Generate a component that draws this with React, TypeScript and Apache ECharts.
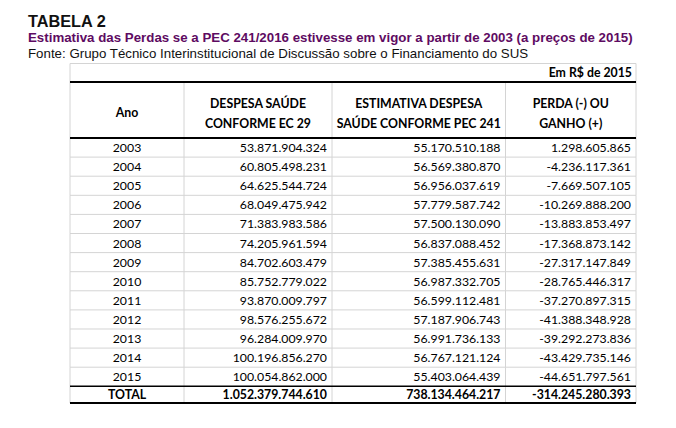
import React, { useEffect, useRef } from "react";
import * as echarts from "echarts";

const titleText = "TABELA 2";
const subtitleText =
  "Estimativa das Perdas se a PEC 241/2016 estivesse em vigor a partir de 2003 (a preços de 2015)";
const sourceText =
  "Fonte: Grupo Técnico Interinstitucional de Discussão sobre o Financiamento do SUS";
const unitText = "Em R$ de 2015";

const headers = [
  ["Ano"],
  ["DESPESA SAÚDE", "CONFORME EC 29"],
  ["ESTIMATIVA DESPESA", "SAÚDE CONFORME PEC 241"],
  ["PERDA (-) OU", "GANHO (+)"],
];

const years = [
  "2003", "2004", "2005", "2006", "2007", "2008", "2009",
  "2010", "2011", "2012", "2013", "2014", "2015", "TOTAL",
];

const despesaEC29 = [
  53871904324, 60805498231, 64625544724, 68049475942, 71383983586,
  74205961594, 84702603479, 85752779022, 93870009797, 98576255672,
  96284009970, 100196856270, 100054862000, 1052379744610,
];

const estimativaPEC241 = [
  55170510188, 56569380870, 56956037619, 57779587742, 57500130090,
  56837088452, 57385455631, 56987332705, 56599112481, 57187906743,
  56991736133, 56767121124, 55403064439, 738134464217,
];

const perdaGanho = [
  1298605865, -4236117361, -7669507105, -10269888200, -13883853497,
  -17368873142, -27317147849, -28765446317, -37270897315, -41388348928,
  -39292273836, -43429735146, -44651797561, -314245280393,
];

function fmt(n: number): string {
  const s = Math.abs(n).toString().replace(/\B(?=(\d{3})+(?!\d))/g, ".");
  return (n < 0 ? "-" : "") + s;
}

const TABLE_FONT = "Lato, 'Open Sans', sans-serif";
const HEAD_FONT = "'Liberation Sans', Arial, sans-serif";

export default function App() {
  const ref = useRef<HTMLDivElement>(null);

  useEffect(() => {
    if (!ref.current) return;
    const chart = echarts.init(ref.current, undefined, { renderer: "svg" });

    const L = 70;
    const R = 636;
    const colX = [0, 114, 262, 435.5, 566];
    const gridTop = 138;
    const gridBottom = 403;
    const totalH = 0.875;
    const nData = years.length - 1;
    const yMax = nData + totalH;
    const grey = "#d4d4d4";
    const pad = 5;

    const rowData = years.map((_, i) => [0, i]);

    const renderItem = (params: any, api: any) => {
      const i = params.dataIndex;
      const isTotal = i === nData;
      const yTop = api.coord([0, i])[1];
      const yBot = api.coord([0, isTotal ? yMax : i + 1])[1];
      const yMid = (yTop + yBot) / 2;
      const xs = colX.map((c) => api.coord([c, 0])[0]);
      const font = `${isTotal ? "bold " : ""}12.3px ${TABLE_FONT}`;
      const children: any[] = [];
      xs.forEach((x) => {
        children.push({
          type: "line",
          shape: { x1: x, y1: yTop, x2: x, y2: yBot },
          style: { stroke: grey, lineWidth: 1 },
        });
      });
      const last = i === nData - 1 || isTotal;
      children.push({
        type: "line",
        z2: 5,
        shape: { x1: xs[0], y1: yBot, x2: xs[4], y2: yBot },
        style: {
          stroke: last ? "#000" : grey,
          lineWidth: isTotal ? 2 : last ? 1.5 : 1,
        },
      });
      children.push({
        type: "text",
        z2: 10,
        style: {
          x: (xs[0] + xs[1]) / 2,
          y: yMid,
          text: years[i],
          font,
          fill: "#000",
          align: "center",
          verticalAlign: "middle",
        },
      });
      const vals = [despesaEC29[i], estimativaPEC241[i], perdaGanho[i]];
      vals.forEach((v, k) => {
        children.push({
          type: "text",
          z2: 10,
          style: {
            x: xs[k + 2] - pad,
            y: yMid,
            text: fmt(v),
            font,
            fill: "#000",
            align: "right",
            verticalAlign: "middle",
          },
        });
      });
      return { type: "group", children };
    };

    const colPix = colX.map((c) => L + c);
    const graphics: any[] = [];
    graphics.push({
      type: "text",
      left: 28,
      top: 13,
      style: { text: titleText, font: `bold 16.3px ${HEAD_FONT}`, fill: "#111" },
    });
    graphics.push({
      type: "text",
      left: 28,
      top: 31,
      style: { text: subtitleText, font: `bold 13.3px ${HEAD_FONT}`, fill: "#5e0b62" },
    });
    graphics.push({
      type: "text",
      left: 28,
      top: 46.5,
      style: { text: sourceText, font: `13.3px ${HEAD_FONT}`, fill: "#111" },
    });
    graphics.push({
      type: "line",
      shape: { x1: L, y1: 63.5, x2: R, y2: 63.5 },
      style: { stroke: grey, lineWidth: 1 },
    });
    graphics.push({
      type: "line",
      shape: { x1: L, y1: 63.5, x2: L, y2: 82 },
      style: { stroke: grey, lineWidth: 1 },
    });
    graphics.push({
      type: "line",
      shape: { x1: R, y1: 63.5, x2: R, y2: 82 },
      style: { stroke: grey, lineWidth: 1 },
    });
    graphics.push({
      type: "text",
      x: R - 4,
      y: 72.5,
      style: {
        text: unitText,
        font: `bold 12.3px ${TABLE_FONT}`,
        fill: "#000",
        align: "right",
        verticalAlign: "middle",
      },
    });
    colPix.forEach((x) => {
      graphics.push({
        type: "line",
        shape: { x1: x, y1: 82, x2: x, y2: 138 },
        style: { stroke: grey, lineWidth: 1 },
      });
    });
    graphics.push({
      type: "line",
      z: 5,
      shape: { x1: L, y1: 82, x2: R, y2: 82 },
      style: { stroke: "#000", lineWidth: 2 },
    });
    graphics.push({
      type: "line",
      z: 5,
      shape: { x1: L, y1: 138, x2: R, y2: 138 },
      style: { stroke: "#000", lineWidth: 2 },
    });
    headers.forEach((lines, k) => {
      const cx = (colPix[k] + colPix[k + 1]) / 2;
      const ys = lines.length === 1 ? [112] : [103, 123];
      lines.forEach((t, j) => {
        graphics.push({
          type: "text",
          x: cx,
          y: ys[j],
          style: {
            text: t,
            font: `bold 12.3px ${TABLE_FONT}`,
            fill: "#000",
            align: "center",
            verticalAlign: "middle",
          },
        });
      });
    });

    chart.setOption({
      animation: false,
      backgroundColor: "#fff",
      grid: { left: L, right: 676 - R, top: gridTop, bottom: 428 - gridBottom },
      xAxis: { type: "value", min: 0, max: colX[4], show: false },
      yAxis: { type: "value", min: 0, max: yMax, inverse: true, show: false },
      graphic: graphics,
      series: [
        {
          type: "custom",
          renderItem,
          data: rowData,
          clip: false,
          silent: true,
        },
      ],
    });

    return () => chart.dispose();
  }, []);

  return (
    <div
      ref={ref}
      style={{ position: "fixed", left: 0, top: 0, width: 676, height: 428, background: "#fff" }}
    />
  );
}
